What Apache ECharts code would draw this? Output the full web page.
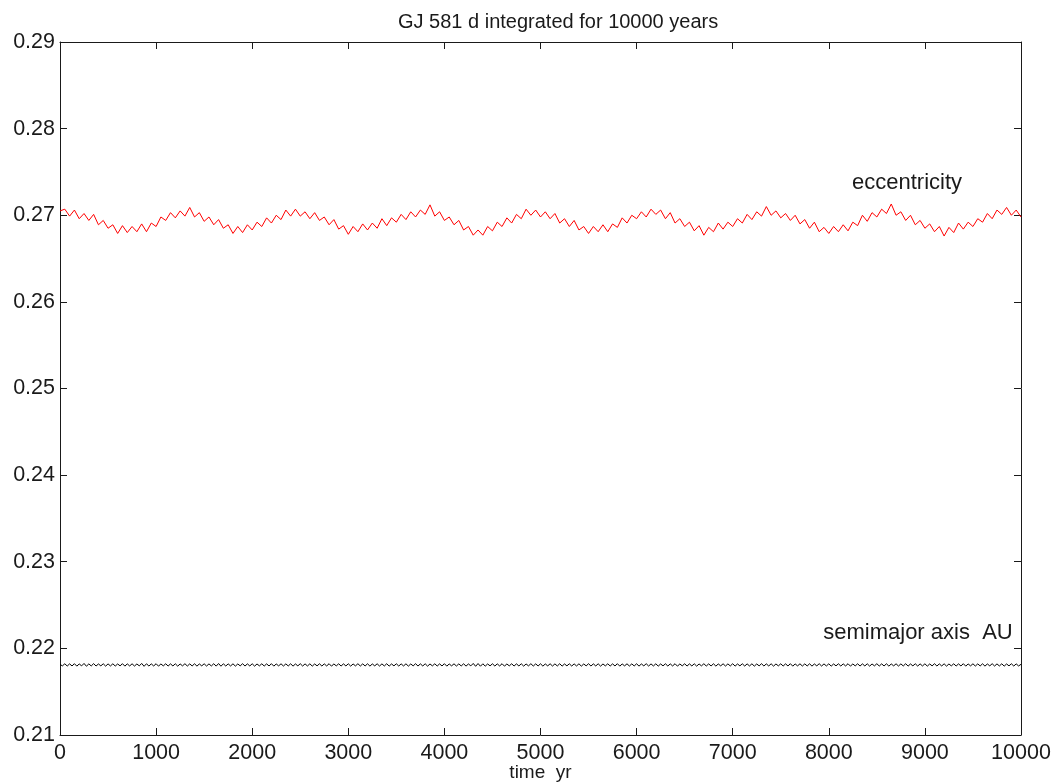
<!DOCTYPE html>
<html>
<head>
<meta charset="utf-8">
<script src="https://cdn.jsdelivr.net/npm/echarts@6/dist/echarts.min.js"></script>
<style>
html,body{margin:0;padding:0;background:#fff;}
#chart{width:1060px;height:784px;}
</style>
</head>
<body>
<div id="chart"></div>
<script>
const titleText = 'GJ 581 d integrated for 10000 years';
const xTicks = [0,1000,2000,3000,4000,5000,6000,7000,8000,9000,10000];
const yTicks = [0.21,0.22,0.23,0.24,0.25,0.26,0.27,0.28,0.29];

// eccentricity, sampled every 50 yr (0..10000)
const eccStep = 50;
const eccentricity = [
0.2705,0.2707,0.2699,0.2706,0.2696,0.2702,0.2694,0.2701,0.2689,0.2694,
0.2685,0.2689,0.2679,0.2688,0.2680,0.2687,0.2681,0.2690,0.2681,0.2691,
0.2687,0.2698,0.2694,0.2703,0.2697,0.2705,0.2699,0.2709,0.2698,0.2703,
0.2693,0.2698,0.2689,0.2695,0.2685,0.2689,0.2679,0.2687,0.2680,0.2689,
0.2683,0.2692,0.2687,0.2697,0.2691,0.2700,0.2695,0.2706,0.2699,0.2707,
0.2699,0.2704,0.2696,0.2703,0.2694,0.2698,0.2689,0.2695,0.2684,0.2688,
0.2678,0.2687,0.2681,0.2690,0.2683,0.2691,0.2685,0.2696,0.2688,0.2697,
0.2692,0.2701,0.2695,0.2704,0.2698,0.2706,0.2701,0.2712,0.2699,0.2704,
0.2694,0.2698,0.2689,0.2694,0.2683,0.2687,0.2677,0.2683,0.2677,0.2687,
0.2682,0.2692,0.2687,0.2697,0.2691,0.2701,0.2696,0.2707,0.2700,0.2706,
0.2698,0.2704,0.2696,0.2702,0.2691,0.2696,0.2687,0.2694,0.2683,0.2687,
0.2679,0.2687,0.2681,0.2689,0.2681,0.2690,0.2686,0.2697,0.2691,0.2700,
0.2696,0.2704,0.2698,0.2707,0.2701,0.2706,0.2696,0.2703,0.2691,0.2696,
0.2687,0.2692,0.2682,0.2688,0.2677,0.2686,0.2681,0.2691,0.2684,0.2692,
0.2687,0.2696,0.2691,0.2701,0.2695,0.2704,0.2699,0.2710,0.2700,0.2705,
0.2697,0.2702,0.2694,0.2700,0.2690,0.2695,0.2685,0.2692,0.2681,0.2686,
0.2679,0.2687,0.2681,0.2689,0.2682,0.2692,0.2688,0.2700,0.2693,0.2703,
0.2698,0.2707,0.2702,0.2713,0.2700,0.2704,0.2694,0.2700,0.2689,0.2694,
0.2685,0.2690,0.2681,0.2687,0.2676,0.2686,0.2680,0.2691,0.2684,0.2692,
0.2687,0.2696,0.2692,0.2702,0.2696,0.2706,0.2701,0.2709,0.2700,0.2706,
0.2698
];

// semimajor axis (AU), sampled every 25 yr (0..10000)
const smaStep = 25;
const semimajor = [
0.21815,0.21798,0.21822,0.21796,0.21821,0.21797,0.21823,0.21795,0.21820,0.21798,0.21826,0.21794,0.21821,0.21797,0.21824,0.21796,0.21820,0.21798,0.21822,0.21795,
0.21821,0.21797,0.21822,0.21796,0.21820,0.21798,0.21823,0.21795,0.21821,0.21797,0.21822,0.21796,0.21820,0.21798,0.21826,0.21793,0.21822,0.21796,0.21821,0.21797,
0.21823,0.21795,0.21820,0.21798,0.21822,0.21796,0.21821,0.21797,0.21822,0.21795,0.21820,0.21798,0.21823,0.21796,0.21821,0.21797,0.21822,0.21795,0.21820,0.21798,
0.21822,0.21796,0.21821,0.21797,0.21823,0.21795,0.21825,0.21794,0.21822,0.21796,0.21821,0.21797,0.21822,0.21795,0.21820,0.21798,0.21823,0.21796,0.21821,0.21797,
0.21822,0.21795,0.21820,0.21798,0.21822,0.21796,0.21821,0.21797,0.21823,0.21795,0.21820,0.21798,0.21822,0.21796,0.21821,0.21797,0.21822,0.21795,0.21820,0.21798,
0.21823,0.21796,0.21821,0.21797,0.21822,0.21795,0.21820,0.21798,0.21822,0.21796,0.21821,0.21797,0.21823,0.21795,0.21820,0.21798,0.21822,0.21796,0.21821,0.21797,
0.21822,0.21795,0.21820,0.21798,0.21823,0.21796,0.21821,0.21797,0.21822,0.21795,0.21820,0.21798,0.21822,0.21796,0.21821,0.21797,0.21823,0.21795,0.21820,0.21798,
0.21822,0.21796,0.21821,0.21797,0.21822,0.21795,0.21820,0.21798,0.21823,0.21796,0.21821,0.21797,0.21822,0.21795,0.21820,0.21798,0.21822,0.21796,0.21821,0.21797,
0.21823,0.21795,0.21820,0.21798,0.21822,0.21796,0.21821,0.21797,0.21822,0.21795,0.21820,0.21798,0.21826,0.21793,0.21825,0.21794,0.21822,0.21795,0.21820,0.21798,
0.21822,0.21796,0.21821,0.21797,0.21823,0.21795,0.21820,0.21798,0.21822,0.21796,0.21821,0.21797,0.21822,0.21795,0.21820,0.21798,0.21823,0.21796,0.21821,0.21797,
0.21822,0.21795,0.21820,0.21798,0.21822,0.21796,0.21821,0.21797,0.21823,0.21795,0.21820,0.21798,0.21822,0.21796,0.21821,0.21797,0.21822,0.21795,0.21820,0.21798,
0.21823,0.21796,0.21821,0.21797,0.21822,0.21795,0.21820,0.21798,0.21822,0.21796,0.21821,0.21797,0.21823,0.21795,0.21820,0.21798,0.21822,0.21796,0.21821,0.21797,
0.21822,0.21795,0.21820,0.21798,0.21823,0.21796,0.21821,0.21797,0.21822,0.21795,0.21820,0.21798,0.21822,0.21796,0.21821,0.21797,0.21823,0.21795,0.21820,0.21798,
0.21822,0.21796,0.21821,0.21797,0.21822,0.21795,0.21820,0.21798,0.21823,0.21796,0.21821,0.21797,0.21822,0.21795,0.21820,0.21798,0.21822,0.21796,0.21821,0.21797,
0.21823,0.21795,0.21820,0.21798,0.21822,0.21796,0.21821,0.21797,0.21822,0.21795,0.21820,0.21798,0.21823,0.21796,0.21821,0.21797,0.21822,0.21795,0.21820,0.21798,
0.21822,0.21796,0.21821,0.21797,0.21823,0.21795,0.21820,0.21798,0.21822,0.21796,0.21821,0.21797,0.21822,0.21795,0.21820,0.21798,0.21823,0.21796,0.21821,0.21797,
0.21822,0.21795,0.21820,0.21798,0.21822,0.21796,0.21821,0.21797,0.21823,0.21795,0.21820,0.21798,0.21822,0.21796,0.21821,0.21797,0.21822,0.21795,0.21820,0.21798,
0.21823,0.21796,0.21821,0.21797,0.21822,0.21795,0.21820,0.21798,0.21822,0.21796,0.21821,0.21797,0.21823,0.21795,0.21820,0.21798,0.21822,0.21796,0.21821,0.21797,
0.21822,0.21795,0.21820,0.21798,0.21823,0.21796,0.21821,0.21797,0.21822,0.21795,0.21820,0.21798,0.21822,0.21796,0.21821,0.21797,0.21823,0.21795,0.21820,0.21798,
0.21822,0.21796,0.21821,0.21797,0.21822,0.21795,0.21820,0.21798,0.21823,0.21796,0.21821,0.21797,0.21822,0.21795,0.21820,0.21798,0.21822,0.21796,0.21821,0.21797,
0.21816
];

const labels = [
  {text:'eccentricity', x:8814, y:0.2737},
  {text:'semimajor axis  AU', x:8928, y:0.2218}
];

const eccData = eccentricity.map((v,i)=>[i*eccStep, v]);
const smaData = semimajor.map((v,i)=>[i*smaStep, v]);

const FONT = 'Liberation Sans, Arial, Helvetica, sans-serif';
const TXT = '#1a1a1a';
const AX = '#1a1a1a';

const chart = echarts.init(document.getElementById('chart'), null, {renderer:'canvas'});
const xMin = xTicks[0], xMax = xTicks[xTicks.length-1], xInt = xTicks[1]-xTicks[0];
const yMin = yTicks[0], yMax = yTicks[yTicks.length-1];

const baseX = {
  type:'value', min:xMin, max:xMax, interval:xInt,
  axisLine:{show:true, onZero:false, lineStyle:{color:AX, width:1}},
  axisTick:{show:true, inside:true, length:7, lineStyle:{color:AX, width:1}},
  splitLine:{show:false}
};
const baseY = {
  type:'value', min:yMin, max:yMax, interval:0.01,
  axisLine:{show:true, onZero:false, lineStyle:{color:AX, width:1}},
  axisTick:{show:true, inside:true, length:7, lineStyle:{color:AX, width:1}},
  splitLine:{show:false}
};

chart.setOption({
  animation:false,
  backgroundColor:'#ffffff',
  title:{
    text:titleText, left:393, top:7,
    textStyle:{fontFamily:FONT, fontSize:20, fontWeight:'normal', color:TXT}
  },
  grid:{left:60, right:39, top:42, bottom:49, containLabel:false, outerBoundsMode:'none'},
  xAxis:[
    Object.assign({}, baseX, {
      position:'bottom',
      name:'time  yr', nameLocation:'middle', nameGap:28, nameMoveOverlap:false,
      nameTextStyle:{fontFamily:FONT, fontSize:19, color:TXT, verticalAlign:'top'},
      axisLabel:{show:true, margin:7, fontFamily:FONT, fontSize:21.5, color:TXT,
        formatter:v=>String(Math.round(v))}
    }),
    Object.assign({}, baseX, {position:'top', axisLabel:{show:false}})
  ],
  yAxis:[
    Object.assign({}, baseY, {
      position:'left',
      axisLabel:{show:true, margin:5, fontFamily:FONT, fontSize:21.5, color:TXT,
        formatter:v=>v.toFixed(2)}
    }),
    Object.assign({}, baseY, {position:'right', axisLabel:{show:false}})
  ],
  series:[
    {
      type:'line', name:'eccentricity', data:eccData, xAxisIndex:0, yAxisIndex:0,
      showSymbol:false, symbol:'none', lineStyle:{color:'#ff0000', width:1}, z:3
    },
    {
      type:'line', name:'semimajor', data:smaData, xAxisIndex:0, yAxisIndex:0,
      showSymbol:false, symbol:'none', lineStyle:{color:'#000000', width:1}, z:3
    },
    {
      type:'scatter', xAxisIndex:0, yAxisIndex:0, symbolSize:0, silent:true,
      itemStyle:{opacity:1},
      data:labels.map(l=>({value:[l.x,l.y], name:l.text})),
      label:{show:true, position:'inside', formatter:p=>p.name,
        fontFamily:FONT, fontSize:22, color:TXT, opacity:1}
    }
  ]
});
</script>
</body>
</html>
